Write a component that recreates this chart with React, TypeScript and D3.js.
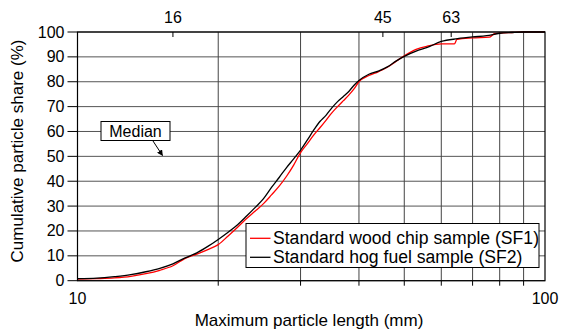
import React from "react";
import * as d3 from "d3";

const sizesSF1 = [10, 11, 12, 13, 14, 15, 16, 17, 18, 19, 20, 21, 22, 23, 24, 25, 26, 27, 28, 29, 30, 31, 32, 33, 34, 35, 36, 37, 38, 39, 40, 42, 44, 46, 48, 50, 53, 56, 60, 64, 64.8, 70, 76, 78, 85, 90, 100];
const shareSF1 = [0.6, 0.8, 1.1, 1.7, 2.8, 4.2, 6.0, 9.0, 10.7, 12.5, 14.5, 18, 21.5, 25, 28, 31, 34.5, 38, 42, 46.5, 51.5, 55, 58.5, 61.5, 64.5, 67.5, 70, 72.3, 74.5, 77, 80, 82.5, 84, 85.8, 88.2, 90.4, 93, 94.3, 95.2, 95.2, 97, 97.6, 97.9, 99.3, 99.8, 100, 100];

const sizesSF2 = [10, 11, 12, 13, 14, 15, 16, 17, 18, 19, 20, 21, 22, 23, 24, 25, 26, 27, 28, 29, 30, 31, 32, 33, 34, 35, 36, 37, 38, 39, 40, 42, 44, 46, 48, 50, 53, 56, 60, 65, 70, 75, 80, 85, 90, 100];
const shareSF2 = [0.8, 1.0, 1.6, 2.4, 3.6, 5.0, 6.8, 9.2, 11.2, 13.8, 16.6, 19.5, 22.5, 26, 29.5, 33, 37.5, 41.5, 45.5, 49, 52.5, 56.5, 60.5, 64, 66.5, 69.5, 72, 74, 76, 78.5, 80.5, 83, 84.3, 86, 88.3, 90.2, 92.3, 93.8, 96.2, 97.3, 98, 98.5, 99.5, 99.8, 100, 100];

const yTicks = [0, 10, 20, 30, 40, 50, 60, 70, 80, 90, 100];
const xGrid = [20, 30, 40, 50, 60, 70, 80, 90];
const xLabels = [10, 100];
const topTicks = [16, 45, 63];
const seriesNames = ["Standard wood chip sample (SF1)", "Standard hog fuel sample (SF2)"];
const seriesColors = ["#ff0000", "#000000"];

export default function App() {
  const W = 561, H = 330;
  const x = d3.scaleLog().domain([10, 100]).range([77.5, 545]);
  const y = d3.scaleLinear().domain([0, 100]).range([280.7, 32]);
  const font = "'Liberation Sans', Arial, sans-serif";
  const line = d3.line<[number, number]>().x(d => x(d[0])).y(d => y(d[1])).curve(d3.curveMonotoneX);
  const d1 = line(sizesSF1.map((s, i) => [s, shareSF1[i]] as [number, number]))!;
  const d2 = line(sizesSF2.map((s, i) => [s, shareSF2[i]] as [number, number]))!;
  const [x0, x1] = x.range();
  const [y0, y1] = y.range();
  return (
    <svg width={W} height={H} style={{ position: "absolute", left: 0, top: 0 }} fontFamily={font}>
      <rect x={0} y={0} width={W} height={H} fill="#fff" />
      {/* grid */}
      {yTicks.map(t => (
        <line key={"hy" + t} x1={x0} x2={x1} y1={y(t)} y2={y(t)} stroke="#555" strokeWidth={1} />
      ))}
      {xGrid.map(t => (
        <line key={"vx" + t} x1={x(t)} x2={x(t)} y1={y0} y2={y1} stroke="#444" strokeWidth={1} />
      ))}
      {/* y ticks */}
      {yTicks.map(t => (
        <g key={"yt" + t}>
          <line x1={x0 - 10} x2={x0} y1={y(t)} y2={y(t)} stroke="#000" />
          <text x={x0 - 13} y={y(t) + 5.5} fontSize={16} textAnchor="end" fill="#000">{t}</text>
        </g>
      ))}
      {/* bottom ticks */}
      {xGrid.map(t => (
        <line key={"bt" + t} x1={x(t)} x2={x(t)} y1={y0} y2={y0 + 5} stroke="#000" />
      ))}
      {xLabels.map(t => (
        <text key={"xl" + t} x={x(t)} y={304} fontSize={16} textAnchor="middle" fill="#000">{t}</text>
      ))}
      {/* top ticks */}
      {topTicks.map(t => (
        <g key={"tt" + t}>
          <line x1={x(t)} x2={x(t)} y1={y1} y2={y1 + 5} stroke="#000" />
          <text x={x(t)} y={23} fontSize={16} textAnchor="middle" fill="#000">{t}</text>
        </g>
      ))}
      {/* curves */}
      <path d={d1} fill="none" stroke={seriesColors[0]} strokeWidth={1.3} />
      <path d={d2} fill="none" stroke={seriesColors[1]} strokeWidth={1.3} />
      {/* border */}
      <rect x={x0} y={y1} width={x1 - x0} height={y0 - y1} fill="none" stroke="#000" strokeWidth={1.2} />
      {/* median annotation */}
      <defs>
        <marker id="arr" viewBox="0 0 10 10" refX={9} refY={5} markerWidth={6} markerHeight={6} orient="auto">
          <path d="M0,0 L10,5 L0,10 z" fill="#000" />
        </marker>
      </defs>
      <rect x={101} y={121.5} width={69} height={19} fill="#fff" stroke="#000" strokeWidth={1} />
      <text x={135.5} y={137} fontSize={16} textAnchor="middle" fill="#000">Median</text>
      <line x1={153} x2={162.5} y1={141} y2={155.5} stroke="#000" strokeWidth={1} markerEnd="url(#arr)" />
      {/* legend */}
      <rect x={246} y={223.5} width={293} height={44} fill="#fff" stroke="#000" strokeWidth={1} />
      {seriesNames.map((n, i) => (
        <g key={n}>
          <line x1={250} x2={270.5} y1={238.3 + i * 19} y2={238.3 + i * 19} stroke={seriesColors[i]} strokeWidth={1.3} />
          <text x={273} y={244 + i * 19} fontSize={17.6} fill="#000">{n}</text>
        </g>
      ))}
      {/* axis titles */}
      <text x={309} y={326} fontSize={17} textAnchor="middle" fill="#000">Maximum particle length (mm)</text>
      <text transform="translate(23,151) rotate(-90)" fontSize={17} textAnchor="middle" fill="#000">Cumulative particle share (%)</text>
    </svg>
  );
}
